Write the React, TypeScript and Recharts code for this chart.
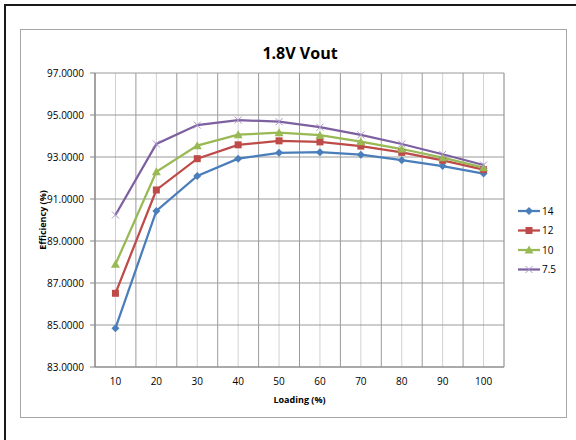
import React from "react";
import {
  LineChart,
  Line,
  XAxis,
  YAxis,
  CartesianGrid,
  Legend,
  Label,
} from "recharts";

// Loading (%) categories
const loading = [10, 20, 30, 40, 50, 60, 70, 80, 90, 100];

// Efficiency (%) per input voltage
const eff14 = [84.85, 90.43, 92.1, 92.92, 93.2, 93.23, 93.11, 92.85, 92.57, 92.21];
const eff12 = [86.51, 91.43, 92.92, 93.58, 93.77, 93.72, 93.52, 93.22, 92.84, 92.4];
const eff10 = [87.89, 92.3, 93.54, 94.06, 94.16, 94.04, 93.73, 93.38, 92.97, 92.49];
const eff75 = [90.24, 93.62, 94.52, 94.76, 94.68, 94.42, 94.05, 93.62, 93.13, 92.62];

const yTicks = [83, 85, 87, 89, 91, 93, 95, 97];
const boundaryTicks = [5, 15, 25, 35, 45, 55, 65, 75, 85, 95, 105];

const data = loading.map((l, i) => ({
  loading: l,
  v14: eff14[i],
  v12: eff12[i],
  v10: eff10[i],
  v75: eff75[i],
}));

const FONT = "'Open Sans', 'Liberation Sans', sans-serif";

type Shape = "diamond" | "square" | "triangle" | "x";

const series: { key: string; name: string; color: string; shape: Shape }[] = [
  { key: "v14", name: "14", color: "#4a7ebb", shape: "diamond" },
  { key: "v12", name: "12", color: "#be4b48", shape: "square" },
  { key: "v10", name: "10", color: "#98b954", shape: "triangle" },
  { key: "v75", name: "7.5", color: "#7d60a0", shape: "x" },
];

function marker(shape: Shape, cx: number, cy: number, color: string, key?: string) {
  if (shape === "diamond") {
    return (
      <path
        key={key}
        d={`M${cx},${cy - 4}L${cx + 4},${cy}L${cx},${cy + 4}L${cx - 4},${cy}Z`}
        fill={color}
      />
    );
  }
  if (shape === "square") {
    return <rect key={key} x={cx - 3.5} y={cy - 3.5} width={7} height={7} fill={color} />;
  }
  if (shape === "triangle") {
    return (
      <path
        key={key}
        d={`M${cx},${cy - 4.5}L${cx + 4.5},${cy + 3.5}L${cx - 4.5},${cy + 3.5}Z`}
        fill={color}
      />
    );
  }
  return (
    <path
      key={key}
      d={`M${cx - 3.5},${cy - 3.5}L${cx + 3.5},${cy + 3.5}M${cx + 3.5},${cy - 3.5}L${cx - 3.5},${cy + 3.5}`}
      stroke="#a896c8"
      strokeWidth={1}
      fill="none"
    />
  );
}

const makeDot = (shape: Shape, color: string) => (props: any) => {
  const { cx, cy, index } = props;
  if (cx == null || cy == null) return <g key={`d-${index}`} />;
  return marker(shape, cx, cy, color, `${shape}-${index}`);
};

const renderLegend = () => (
  <svg width={60} height={80}>
    {series.map((s, i) => {
      const y = 8 + i * 19.5;
      return (
        <g key={s.key}>
          <line x1={2} x2={24} y1={y} y2={y} stroke={s.color} strokeWidth={2.25} />
          {marker(s.shape, 13, y, s.color)}
          <text x={26} y={y + 3.5} fontSize={10} fontFamily={FONT} fill="#000">
            {s.name}
          </text>
        </g>
      );
    })}
  </svg>
);

const yLabel = (props: any) => {
  const { viewBox } = props;
  const x = viewBox.x + 22;
  const y = viewBox.y + viewBox.height / 2;
  return (
    <text
      x={x}
      y={y}
      transform={`rotate(-90, ${x}, ${y})`}
      textAnchor="middle"
      dominantBaseline="central"
      fontSize={9}
      fontWeight="bold"
      fontFamily={FONT}
      fill="#000"
    >
      Efficiency (%)
    </text>
  );
};

export default function App() {
  return (
    <div
      style={{
        position: "absolute",
        left: 0,
        top: 0,
        width: 576,
        height: 440,
        background: "#fff",
        overflow: "hidden",
      }}
    >
      <div
        style={{
          position: "absolute",
          left: 4,
          top: 4,
          width: 600,
          height: 460,
          borderLeft: "2.5px solid #1a1a1a",
          borderTop: "2.5px solid #1a1a1a",
        }}
      />
      <div
        style={{
          position: "absolute",
          left: 20,
          top: 29,
          width: 545,
          height: 387,
          border: "1px solid #a6a6a6",
        }}
      />
      <div
        style={{
          position: "absolute",
          left: 0,
          top: 42,
          width: 600,
          textAlign: "center",
          fontFamily: FONT,
          fontWeight: "bold",
          fontSize: 16,
          color: "#000",
        }}
      >
        1.8V Vout
      </div>
      <div style={{ position: "absolute", left: 0, top: 0 }}>
        <LineChart
          width={576}
          height={440}
          data={data}
          margin={{ top: 73, right: 72, bottom: 35, left: 20 }}
        >
          <CartesianGrid
            xAxisId="main"
            stroke="#d0d0d0"
            strokeWidth={1}
            horizontal={false}
          />
          <CartesianGrid
            xAxisId="bounds"
            stroke="#9a9a9a"
            strokeWidth={1}
            horizontal={true}
          />
          <XAxis
            xAxisId="bounds"
            orientation="top"
            dataKey="loading"
            type="number"
            domain={[5, 105]}
            ticks={boundaryTicks}
            hide
          />
          <XAxis
            xAxisId="main"
            dataKey="loading"
            type="number"
            domain={[5, 105]}
            ticks={loading}
            height={38}
            tickLine={false}
            tickSize={0}
            tickMargin={11}
            axisLine={{ stroke: "#868686" }}
            tick={{ fontSize: 10, fontFamily: FONT, fill: "#000" }}
          >
            <Label
              value="Loading (%)"
              position="insideBottom"
              offset={2}
              style={{ fontSize: 9, fontWeight: "bold", fontFamily: FONT, fill: "#000" }}
            />
          </XAxis>
          <YAxis
            domain={[83, 97]}
            ticks={yTicks}
            width={75}
            tickSize={5}
            tickMargin={6}
            allowDataOverflow
            tickFormatter={(v: number) => v.toFixed(4)}
            axisLine={{ stroke: "#868686" }}
            tickLine={{ stroke: "#868686" }}
            tick={{ fontSize: 10, fontFamily: FONT, fill: "#000" }}
          >
            <Label content={yLabel} />
          </YAxis>
          <Legend
            layout="horizontal"
            align="center"
            verticalAlign="middle"
            wrapperStyle={{ left: 516, top: 203, width: 60, height: 80 }}
            content={renderLegend}
          />
          {series.map((s) => (
            <Line
              key={s.key}
              xAxisId="main"
              dataKey={s.key}
              name={s.name}
              stroke={s.color}
              strokeWidth={2.25}
              dot={makeDot(s.shape, s.color)}
              activeDot={false}
              isAnimationActive={false}
            />
          ))}
        </LineChart>
      </div>
    </div>
  );
}
